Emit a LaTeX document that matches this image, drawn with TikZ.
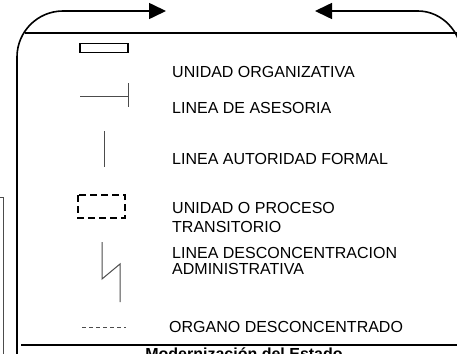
\documentclass[tikz,border=0pt]{standalone}
\usepackage{fontspec}
\setmainfont{Liberation Sans}
\usetikzlibrary{arrows.meta}
\begin{document}
\begin{tikzpicture}[x=1pt,y=-1pt,
  frame/.style={line width=1.6pt,black},
  sym/.style={line width=1pt,black!70},
  lbl/.style={anchor=base west,inner sep=0pt,font=\fontsize{16}{18}\selectfont},
  arr/.style={-{Triangle[length=17pt,width=16pt]}}]
\useasboundingbox (0,0) rectangle (457,353);
\clip (0,0) rectangle (457,353);
% frame
\draw[frame] (17,360) -- (17,57) .. controls (17,31.6) and (37.6,11) .. (63,11) -- (149,11);
\draw[frame,arr] (63,11) -- (166,11);
\draw[frame,arr] (418,11) -- (315,11);
\draw[frame] (418,11) .. controls (442.3,11) and (462,32.7) .. (462,57);
\draw[line width=1.3pt] (25,33) -- (460,33);
\draw[frame] (21,345) -- (460,345);
\draw[line width=0.9pt,black!70] (0,197) -- (3,197) -- (3,360);
% symbols
\draw[line width=1.8pt] (80,43.5) rectangle (128,52.5);
\draw[sym] (80,96) -- (128,96);
\draw[sym] (128,83) -- (128,107);
\draw[sym] (104,131) -- (104,167);
\draw[line width=1.7pt,dash pattern=on 7pt off 4pt] (78,195) rectangle (125,218);
\draw[sym] (102,242) -- (102,279) -- (120,264) -- (120,302);
\draw[line width=0.8pt,black!70,dash pattern=on 4pt off 3pt] (82,327) -- (126,327);
% labels
\node[lbl] (t1) at (172,77) {UNIDAD ORGANIZATIVA};
\node[lbl] (t2) at (172,113.5) {LINEA DE ASESORIA};
\node[lbl] (t3) at (172,164) {LINEA AUTORIDAD FORMAL};
\node[lbl] (t4) at (172,213) {UNIDAD O PROCESO};
\node[lbl] (t5) at (172,232) {TRANSITORIO};
\node[lbl] (t6) at (172,258) {LINEA DESCONCENTRACION};
\node[lbl] (t7) at (172,274) {ADMINISTRATIVA};
\node[lbl] (t8) at (169,332) {ORGANO DESCONCENTRADO};
\node[anchor=base,inner sep=0pt,font=\fontsize{16}{18}\selectfont\bfseries] (t9) at (244,359.5) {Modernización del Estado};
\end{tikzpicture}
\end{document}
